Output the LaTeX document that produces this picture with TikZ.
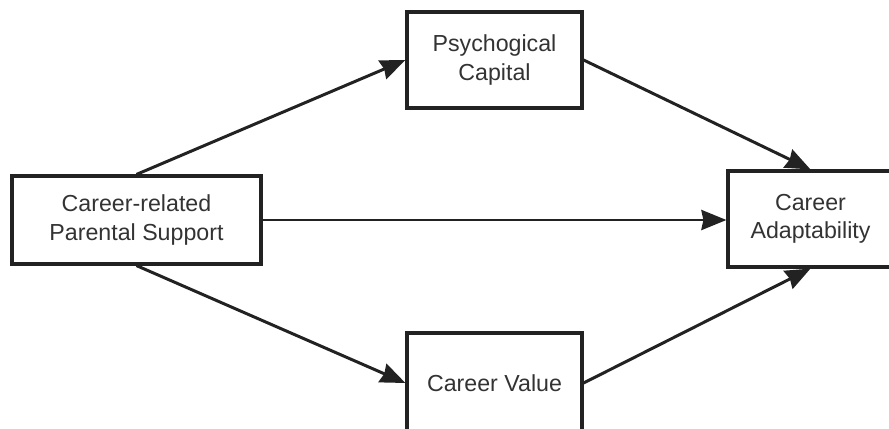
\documentclass[tikz,border=0pt]{standalone}
\usepackage{fontspec}
\setmainfont{Liberation Sans}
\usetikzlibrary{arrows.meta}

\definecolor{boxline}{HTML}{222222}
\definecolor{boxtext}{HTML}{333333}

\tikzset{
  varbox/.style={draw=boxline, line width=1.8pt, fill=white, align=center,
    text=boxtext, font=\fontsize{13.2}{16}\selectfont, inner sep=0pt},
}

\begin{document}
\begin{tikzpicture}[>={Stealth[length=5mm,width=4mm,inset=0.4mm]}, line width=1.7pt]
  \useasboundingbox (0,0) rectangle (17.78,8.56);
  \node[varbox, minimum width=4.98cm, minimum height=1.76cm] (support)   at (2.73,4.16)  {Career-related\\Parental Support};
  \node[varbox, minimum width=3.5cm,  minimum height=1.92cm] (psycap)    at (9.89,7.36)  {Psychogical\\Capital};
  \node[varbox, minimum width=3.5cm,  minimum height=2.0cm] (value)      at (9.89,0.9)   {Career Value};
  \node[varbox, minimum width=3.3cm,  minimum height=1.92cm] (adapt)     at (16.21,4.18) {Career\\Adaptability};

  \path[->, color=boxline]
  (support.north)
  edge (psycap.west)

  (support.east)
  edge (support.east -| adapt.west)

  (support.south)
  edge (value.west)

  (psycap.east)
  edge (adapt.north)

  (value.east)
  edge (adapt.south)
;
\end{tikzpicture}
\end{document}
